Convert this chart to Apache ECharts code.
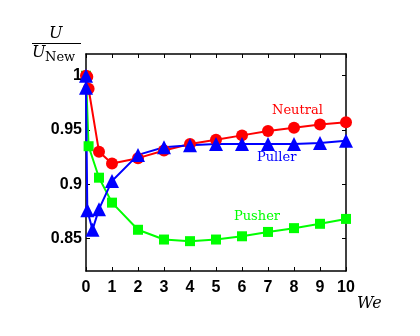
<!DOCTYPE html>
<html>
<head>
<meta charset="utf-8">
<script src="https://cdn.jsdelivr.net/npm/echarts@6/dist/echarts.min.js"></script>
<style>
  html, body { margin: 0; padding: 0; background: #fff; }
  #main { width: 420px; height: 336px; }
</style>
</head>
<body>
<div id="main"></div>
<script>
// We values and U/U_New per swimmer type
const weNeutral = [0, 0.05, 0.1, 0.5, 1, 2, 3, 4, 5, 6, 7, 8, 9, 10];
const uNeutral  = [1.0, 0.999, 0.988, 0.930, 0.919, 0.924, 0.931, 0.937, 0.941, 0.945, 0.949, 0.952, 0.955, 0.957];

const wePuller = [0, 0, 0.05, 0.25, 0.5, 1, 2, 3, 4, 5, 6, 7, 8, 9, 10];
const uPuller  = [1.0, 0.989, 0.876, 0.858, 0.877, 0.903, 0.927, 0.934, 0.936, 0.937, 0.937, 0.937, 0.937, 0.938, 0.940];

const wePusher = [0, 0.1, 0.5, 1, 2, 3, 4, 5, 6, 7, 8, 9, 10];
const uPusher  = [1.0, 0.935, 0.906, 0.883, 0.858, 0.849, 0.8475, 0.849, 0.852, 0.856, 0.8595, 0.8635, 0.868];

const yTicks = [0.85, 0.9, 0.95, 1];

function zip(xs, ys) {
    return xs.map((x, i) => [x, ys[i]]);
}

let myChart = echarts.init(document.getElementById('main'));

const tickFont = {
    fontFamily: 'Liberation Sans',
    fontWeight: 'bold',
    fontSize: 16,
    color: '#000'
};
const axisLine = { show: true, onZero: false, lineStyle: { color: '#000', width: 1.5 } };
const serif = '"DejaVu Serif"';

myChart.setOption({
    animation: false,
    grid: { left: 86, right: 74, top: 54, bottom: 65 },
    xAxis: [
        {
            type: 'value',
            min: 0,
            max: 10,
            interval: 1,
            axisLine: axisLine,
            axisTick: { inside: true, length: 4, lineStyle: { color: '#000' } },
            axisLabel: Object.assign({ margin: 9 }, tickFont),
            splitLine: { show: false }
        },
        {
            type: 'value',
            position: 'top',
            min: 0,
            max: 10,
            interval: 1,
            axisLine: axisLine,
            axisTick: { inside: true, length: 4, lineStyle: { color: '#000' } },
            axisLabel: { show: false },
            splitLine: { show: false }
        }
    ],
    yAxis: [
        {
            type: 'value',
            min: 0.82,
            max: 1.02,
            axisLine: axisLine,
            axisTick: { inside: true, length: 4, customValues: yTicks, lineStyle: { color: '#000' } },
            axisLabel: Object.assign({ margin: 4, customValues: yTicks }, tickFont),
            splitLine: { show: false }
        },
        {
            type: 'value',
            position: 'right',
            min: 0.82,
            max: 1.02,
            axisLine: axisLine,
            axisTick: { inside: true, length: 4, customValues: yTicks, lineStyle: { color: '#000' } },
            axisLabel: { show: false },
            splitLine: { show: false }
        }
    ],
    series: [
        {
            name: 'Pusher',
            type: 'line',
            data: zip(wePusher, uPusher),
            symbol: 'rect',
            symbolSize: 10,
            itemStyle: { color: '#00ff00' },
            lineStyle: { color: '#00ff00', width: 2 }
        },
        {
            name: 'Neutral',
            type: 'line',
            data: zip(weNeutral, uNeutral),
            symbol: 'circle',
            symbolSize: 12,
            itemStyle: { color: '#ff0000' },
            lineStyle: { color: '#ff0000', width: 2 }
        },
        {
            name: 'Puller',
            type: 'line',
            data: zip(wePuller, uPuller),
            symbol: 'triangle',
            symbolSize: 14,
            itemStyle: { color: '#0000ff' },
            lineStyle: { color: '#0000ff', width: 2 }
        }
    ],
    graphic: [
        // y axis title: U / U_New
        { type: 'text', left: 49, top: 26, style: { text: 'U', font: 'italic 16px ' + serif, fill: '#000' } },
        { type: 'line', shape: { x1: 32, y1: 43.5, x2: 81, y2: 43.5 }, style: { stroke: '#000', lineWidth: 1 } },
        { type: 'text', left: 32, top: 45, style: { text: 'U', font: 'italic 16px ' + serif, fill: '#000' } },
        { type: 'text', left: 45, top: 51, style: { text: 'New', font: '13px ' + serif, fill: '#000' } },
        // x axis title
        { type: 'text', left: 357, top: 296, style: { text: 'We', font: 'italic 16px ' + serif, fill: '#000' } },
        // series labels
        { type: 'text', left: 272, top: 104, style: { text: 'Neutral', font: '13px ' + serif, fill: '#ff0000' } },
        { type: 'text', left: 257, top: 151, style: { text: 'Puller', font: '13px ' + serif, fill: '#0000ff' } },
        { type: 'text', left: 234, top: 210, style: { text: 'Pusher', font: '13px ' + serif, fill: '#00ff00' } }
    ]
});
</script>
</body>
</html>
